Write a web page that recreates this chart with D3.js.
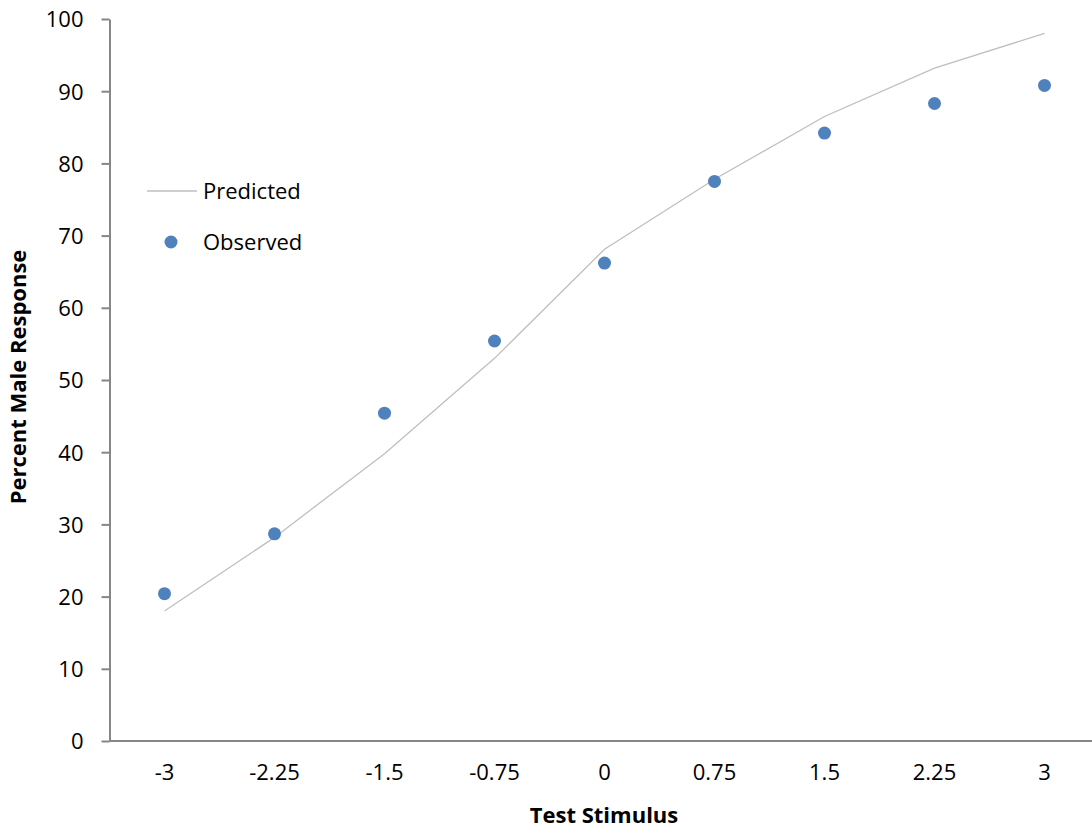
<!DOCTYPE html>
<html>
<head>
<meta charset="utf-8">
<script src="https://cdn.jsdelivr.net/npm/d3@7"></script>
<style>
  body { margin: 0; background: #fff; }
  text { font-family: "Open Sans", "Liberation Sans", sans-serif; fill: #000; }
  .axis path, .axis line { stroke: #868686; stroke-width: 2; }
</style>
</head>
<body>
<script>
// chart data
var stimulus  = ["-3", "-2.25", "-1.5", "-0.75", "0", "0.75", "1.5", "2.25", "3"];
var predicted = [18.0, 28.2, 39.8, 53.0, 68.1, 77.8, 86.5, 93.2, 98.0];
var observed  = [20.4, 28.7, 45.4, 55.4, 66.2, 77.5, 84.2, 88.3, 90.8];
var yTicks    = [0, 10, 20, 30, 40, 50, 60, 70, 80, 90, 100];

var width = 1092, height = 831;

var svg = d3.select("body").append("svg")
    .attr("width", width)
    .attr("height", height);

var x = d3.scaleBand()
    .domain(stimulus)
    .range([109.5, 1099.5]);

var y = d3.scaleLinear()
    .domain([0, 100])
    .range([741, 19]);

function cx(d) { return x(d) + x.bandwidth() / 2; }

// y axis
var yAxis = svg.append("g")
    .attr("class", "axis")
    .attr("transform", "translate(109.5,0)")
    .call(d3.axisLeft(y).tickValues(yTicks).tickSize(8).tickSizeOuter(0).tickPadding(18));
yAxis.selectAll("text")
    .style("font-size", "22px")
    .attr("dy", "0.36em");

// x axis
var xAxis = svg.append("g")
    .attr("class", "axis")
    .attr("transform", "translate(0,741)")
    .call(d3.axisBottom(x).tickSize(0).tickSizeOuter(0).tickPadding(23));
xAxis.selectAll("text")
    .style("font-size", "22px")
    .attr("dy", "0.71em");
xAxis.select(".domain").attr("d", "M109.5,0H1100");

// predicted line
var line = d3.line()
    .x(function(d, i) { return cx(stimulus[i]); })
    .y(function(d) { return y(d); });

svg.append("path")
    .datum(predicted)
    .attr("fill", "none")
    .attr("stroke", "#bfbfbf")
    .attr("stroke-width", 1.3)
    .attr("d", line);

// observed points
svg.selectAll(".dot")
    .data(observed)
    .enter()
    .append("circle")
    .attr("class", "dot")
    .attr("cx", function(d, i) { return cx(stimulus[i]); })
    .attr("cy", function(d) { return y(d); })
    .attr("r", 6.5)
    .attr("fill", "#4f81bd");

// axis titles
svg.append("text")
    .attr("transform", "translate(26,377) rotate(-90)")
    .attr("text-anchor", "middle")
    .style("font-size", "22px")
    .style("font-weight", "bold")
    .text("Percent Male Response");

svg.append("text")
    .attr("x", 604)
    .attr("y", 823)
    .attr("text-anchor", "middle")
    .style("font-size", "22px")
    .style("font-weight", "bold")
    .text("Test Stimulus");

// legend
var legend = svg.append("g");
legend.append("line")
    .attr("x1", 147).attr("x2", 197)
    .attr("y1", 191).attr("y2", 191)
    .attr("stroke", "#bfbfbf")
    .attr("stroke-width", 1.3);
legend.append("text")
    .attr("x", 203).attr("y", 199)
    .style("font-size", "22px")
    .text("Predicted");
legend.append("circle")
    .attr("cx", 171).attr("cy", 242)
    .attr("r", 6.5)
    .attr("fill", "#4f81bd");
legend.append("text")
    .attr("x", 203).attr("y", 250)
    .style("font-size", "22px")
    .text("Observed");
</script>
</body>
</html>
